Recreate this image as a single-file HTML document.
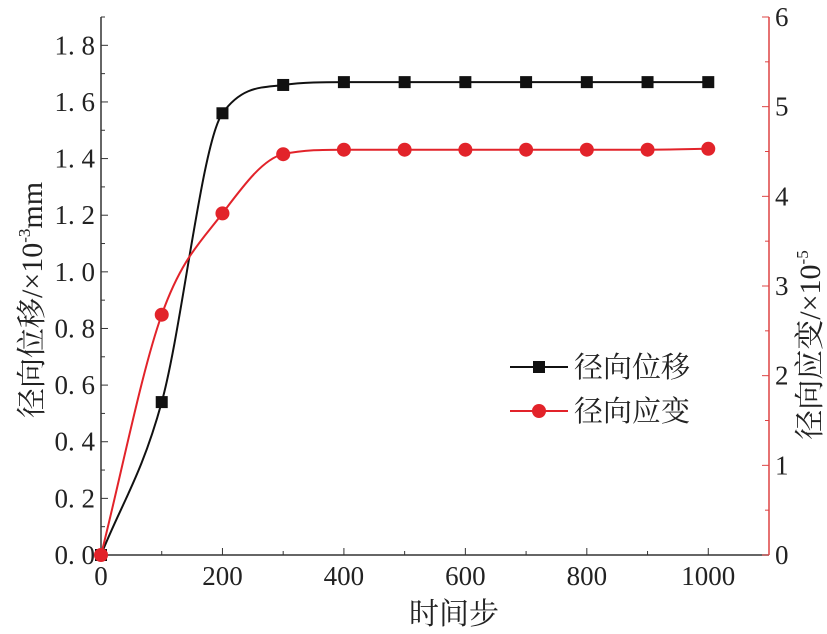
<!DOCTYPE html>
<html><head><meta charset="utf-8"><style>
body{margin:0;background:#fff}
svg{display:block}
text{font-family:"Liberation Serif","Noto Serif CJK SC",serif;fill:#222}
</style></head><body>
<svg id="c" width="827" height="634"></svg>
<script>
const xs=[0,100,200,300,400,500,600,700,800,900,1000];
const disp=[0,0.54,1.56,1.66,1.67,1.67,1.67,1.67,1.67,1.67,1.67];
const strain=[0,2.68,3.81,4.47,4.52,4.52,4.52,4.52,4.52,4.52,4.53];
const xTicks=[0,200,400,600,800,1000];
const yTicks=[0,0.2,0.4,0.6,0.8,1.0,1.2,1.4,1.6,1.8];
const y2Ticks=[0,1,2,3,4,5,6];
const L=101,R=769,T=17,B=555;
const X=v=>L+(v/1100)*(R-L);
const Y=v=>B-(v/1.9)*(B-T);
const Y2=v=>B-(v/6)*(B-T);
const s=document.getElementById('c');const NS='http://www.w3.org/2000/svg';
function mk(t,a,p){const e=document.createElementNS(NS,t);for(const k in a)e.setAttribute(k,a[k]);(p||s).appendChild(e);return e;}
function path(pts){const n=pts.length,d=[],m=[];
for(let i=0;i<n-1;i++)d.push((pts[i+1][1]-pts[i][1])/(pts[i+1][0]-pts[i][0]));
m[0]=d[0];m[n-1]=d[n-2];
for(let i=1;i<n-1;i++){m[i]=(d[i-1]*d[i]<=0)?0:(d[i-1]+d[i])/2;}
for(let i=0;i<n-1;i++){if(d[i]===0){m[i]=0;m[i+1]=0;continue;}const a=m[i]/d[i],b=m[i+1]/d[i],h=a*a+b*b;if(h>9){const t=3/Math.sqrt(h);m[i]=t*a*d[i];m[i+1]=t*b*d[i];}}
let s='M'+pts[0][0]+','+pts[0][1];
for(let i=0;i<n-1;i++){const h=(pts[i+1][0]-pts[i][0])/3;s+=`C${pts[i][0]+h},${pts[i][1]+m[i]*h} ${pts[i+1][0]-h},${pts[i+1][1]-m[i+1]*h} ${pts[i+1][0]},${pts[i+1][1]}`;}
return s;}
let e;
e=mk('line',{x1:L,y1:T,x2:L,y2:B,stroke:'#333','stroke-width':1.5});
e=mk('line',{x1:L,y1:B,x2:R,y2:B,stroke:'#333','stroke-width':1.5});
e=mk('line',{x1:R,y1:T,x2:R,y2:B,stroke:'#d44','stroke-width':1.5});
for(let i=0;i<=19;i++){mk('line',{x1:L,y1:Y(i/10),x2:L+(i%2?4:7),y2:Y(i/10),stroke:'#333'});}
yTicks.forEach(v=>{e=mk('text',{x:L-6,y:Y(v)+9,'text-anchor':'end','font-size':27});e.textContent=v.toFixed(1).replace('.','. ');});
for(let v=0;v<=1000;v+=100){mk('line',{x1:X(v),y1:B,x2:X(v),y2:B-(v%200?4:7),stroke:'#333'});}
xTicks.forEach(v=>{e=mk('text',{x:X(v),y:B+30,'text-anchor':'middle','font-size':27});e.textContent=v;});
for(let i=0;i<=12;i++){mk('line',{x1:R,y1:Y2(i/2),x2:R-(i%2?4:7),y2:Y2(i/2),stroke:'#d44'});}
y2Ticks.forEach(v=>{e=mk('text',{x:R+6,y:Y2(v)+9,'font-size':27});e.textContent=v;});
e=mk('text',{x:454,y:624,'text-anchor':'middle','font-size':30});e.textContent='时间步';
e=mk('text',{x:0,y:0,'text-anchor':'middle','font-size':30,transform:`translate(42,300) rotate(-90)`});e.innerHTML='径向位移/×10<tspan font-size="17" dy="-12">-3</tspan><tspan dy="12">mm</tspan>';
e=mk('text',{x:0,y:0,'text-anchor':'middle','font-size':30,transform:`translate(820,345) rotate(-90)`});e.innerHTML='径向应变/×10<tspan font-size="17" dy="-12">-5</tspan>';
const pd=xs.map((x,i)=>[X(x),Y(disp[i])]);
const ps=xs.map((x,i)=>[X(x),Y2(strain[i])]);
e=mk('path',{d:path(pd),fill:'none',stroke:'#111','stroke-width':2});
e=mk('path',{d:path(ps),fill:'none',stroke:'#e2232a','stroke-width':2});
pd.forEach(p=>{e=mk('rect',{x:p[0]-6,y:p[1]-6,width:12,height:12,fill:'#111'});});
ps.forEach(p=>{e=mk('circle',{cx:p[0],cy:p[1],r:7,fill:'#e2232a'});});
const lg=mk('g',{});
mk('line',{x1:510,y1:367,x2:568,y2:367,stroke:'#111','stroke-width':2},lg);mk('rect',{x:533,y:361,width:12,height:12,fill:'#111'},lg);
e=mk('text',{x:574,y:377,'font-size':29},lg);e.textContent='径向位移';
mk('line',{x1:510,y1:411,x2:568,y2:411,stroke:'#e2232a','stroke-width':2},lg);mk('circle',{cx:539,cy:411,r:7,fill:'#e2232a'},lg);
e=mk('text',{x:574,y:421,'font-size':29},lg);e.textContent='径向应变';
</script>
</body></html>
